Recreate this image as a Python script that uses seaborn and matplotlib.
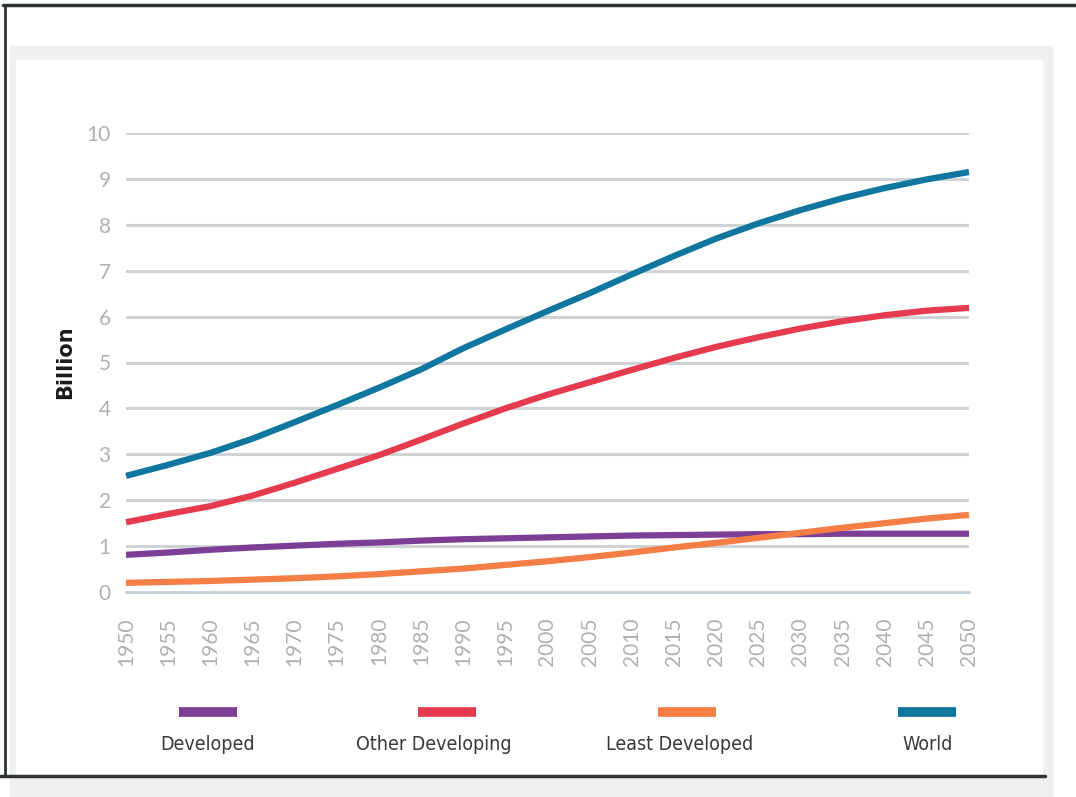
import numpy as np
import pandas as pd
import matplotlib
matplotlib.use("Agg")
import matplotlib.pyplot as plt
from matplotlib.patches import Rectangle
from matplotlib.lines import Line2D
import seaborn as sns

years = list(range(1950, 2051, 5))
world = [2.53, 2.77, 3.03, 3.34, 3.70, 4.07, 4.45, 4.85, 5.31, 5.72, 6.12,
         6.51, 6.92, 7.32, 7.70, 8.03, 8.32, 8.58, 8.80, 8.99, 9.15]
other_dev = [1.52, 1.70, 1.87, 2.10, 2.38, 2.68, 2.98, 3.32, 3.67, 4.00, 4.30,
             4.57, 4.84, 5.10, 5.34, 5.55, 5.74, 5.90, 6.03, 6.13, 6.19]
developed = [0.81, 0.86, 0.92, 0.97, 1.01, 1.05, 1.08, 1.12, 1.15, 1.17, 1.19,
             1.21, 1.23, 1.24, 1.25, 1.26, 1.26, 1.27, 1.27, 1.27, 1.27]
least_dev = [0.20, 0.22, 0.24, 0.27, 0.30, 0.34, 0.39, 0.45, 0.51, 0.59, 0.67,
             0.76, 0.86, 0.97, 1.07, 1.18, 1.29, 1.40, 1.50, 1.60, 1.68]
series_names = ["Developed", "Other Developing", "Least Developed", "World"]
colors = ["#7d3f96", "#e63a4e", "#f47e45", "#0f76a0"]
yticks = list(range(0, 11))

df = pd.concat([
    pd.DataFrame({"year": years, "value": vals, "series": name})
    for name, vals in zip(series_names, [developed, other_dev, least_dev, world])
])

sns.set_theme(style="white")
plt.rcParams["font.family"] = ["DejaVu Sans"]

W, H = 1076, 797
fig = plt.figure(figsize=(W / 100, H / 100), dpi=100)
fig.patch.set_facecolor("white")

def px(x0, y0, x1, y1):
    return (x0 / W, 1 - y1 / H, (x1 - x0) / W, (y1 - y0) / H)

# background panels
x, y, w, h = px(10, 46, 1052, 797)
fig.add_artist(Rectangle((x, y), w, h, transform=fig.transFigure, color="#f0f0f0", zorder=0))
x, y, w, h = px(16, 60, 1042, 776)
fig.add_artist(Rectangle((x, y), w, h, transform=fig.transFigure, color="white", zorder=0))
# dark border lines
fig.add_artist(Line2D([3 / W, 1.0], [1 - 5 / H, 1 - 5 / H], transform=fig.transFigure, color="#2e3336", lw=2.5))
fig.add_artist(Line2D([5 / W, 5 / W], [1 - 5 / H, 1 - 776 / H], transform=fig.transFigure, color="#2e3336", lw=2.0))
fig.add_artist(Line2D([0, 1045 / W], [1 - 776 / H, 1 - 776 / H], transform=fig.transFigure, color="#2e3336", lw=2.5))

ax = fig.add_axes(px(126, 133, 969, 592))
ax.set_facecolor("none")
sns.lineplot(data=df, x="year", y="value", hue="series", hue_order=series_names,
             palette=dict(zip(series_names, colors)), linewidth=4.5, ax=ax,
             legend=False, zorder=3)
for ln in ax.lines:
    ln.set_clip_on(False)
    ln.set_solid_capstyle("butt")

tick_font = ["Lato", "DejaVu Sans"]
ax.set_xlim(1950, 2050)
ax.set_ylim(0, 10)
ax.set_yticks(yticks)
ax.set_yticklabels([str(v) for v in yticks], family=tick_font)
ax.set_xticks(years)
ax.set_xticklabels([str(v) for v in years], rotation=90, family=tick_font)
for t in yticks[1:]:
    ax.axhline(t, color="#cfd3d6", lw=2.2, zorder=1)
for s in ["top", "right", "left"]:
    ax.spines[s].set_visible(False)
ax.spines["bottom"].set_color("#c5d0d6")
ax.spines["bottom"].set_linewidth(2)
ax.tick_params(axis="x", colors="#b0b0b0", length=3, width=1, labelsize=15, pad=18,
               direction="in", labelcolor="#b0b0b0")
ax.tick_params(axis="y", length=0, labelsize=15, pad=11, labelcolor="#b0b0b0")
ax.set_xlabel("")
ax.set_ylabel("Billion", fontsize=15, color="#1a1a1a", labelpad=8, weight="semibold")
ax.grid(False)

# legend
sw_x = [208, 447, 687, 927]
lab_x = [208, 434, 680, 928]
for cx, lx, name, col in zip(sw_x, lab_x, series_names, colors):
    fig.add_artist(Line2D([(cx - 29) / W, (cx + 29) / W], [1 - 712 / H] * 2,
                          transform=fig.transFigure, color=col, lw=7, solid_capstyle="butt"))
    fig.text(lx / W, 1 - 745 / H, name, ha="center", va="center", fontsize=14,
             color="#3a3a3a", family=["DejaVu Sans"], stretch="condensed")

fig.savefig("out.png", dpi=100)
